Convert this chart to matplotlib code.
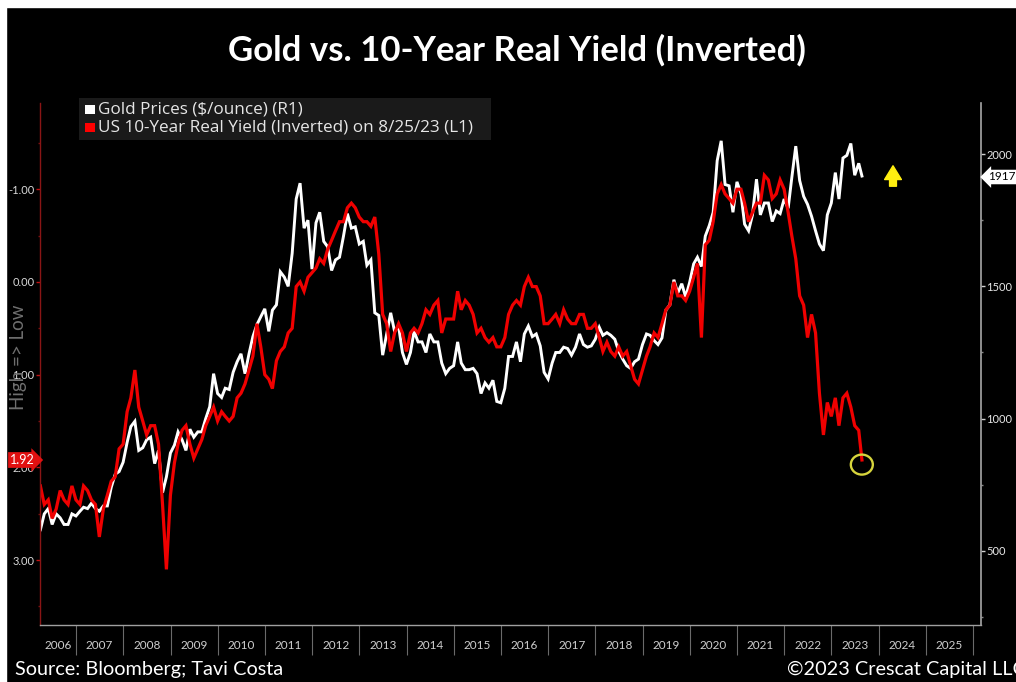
import matplotlib
matplotlib.use("Agg")
import matplotlib.pyplot as plt
import matplotlib.dates as mdates
from matplotlib.patches import Ellipse, Rectangle, FancyArrowPatch
from matplotlib.ticker import FixedLocator, FixedFormatter, MultipleLocator
import pandas as pd
import datetime as dt

plt.rcParams['font.family'] = ['Lato', 'DejaVu Sans']

# ---------------- data (monthly, Mar 2006 .. 25 Aug 2023) ----------------
gold = [
    # 2006 Mar-Dec
    580, 640, 660, 600, 640, 625, 600, 600, 640, 632,
    # 2007
    650, 665, 660, 680, 660, 650, 670, 670, 740, 790, 800, 835,
    # 2008
    910, 970, 990, 880, 890, 920, 930, 830, 880, 720, 780, 870,
    # 2009
    900, 950, 920, 880, 960, 930, 950, 950, 1000, 1045, 1170, 1095,
    # 2010
    1080, 1115, 1110, 1175, 1215, 1245, 1170, 1245, 1310, 1355, 1385, 1415,
    # 2011
    1330, 1410, 1430, 1555, 1535, 1500, 1625, 1830, 1890, 1720, 1750, 1565,
    # 2012
    1740, 1780, 1670, 1650, 1560, 1600, 1610, 1690, 1775, 1720, 1725, 1660,
    # 2013
    1670, 1580, 1600, 1400, 1390, 1240, 1320, 1400, 1330, 1350, 1250, 1205,
    # 2014
    1250, 1330, 1290, 1290, 1250, 1320, 1290, 1290, 1210, 1170, 1190, 1200,
    # 2015
    1290, 1210, 1185, 1185, 1190, 1170, 1095, 1135, 1115, 1145, 1065, 1060,
    # 2016
    1115, 1235, 1235, 1290, 1215, 1320, 1350, 1310, 1320, 1275, 1175, 1150,
    # 2017
    1210, 1250, 1250, 1270, 1265, 1240, 1270, 1320, 1280, 1270, 1275, 1300,
    # 2018
    1345, 1315, 1325, 1315, 1300, 1255, 1225, 1200, 1190, 1215, 1225, 1280,
    # 2019
    1320, 1315, 1295, 1280, 1305, 1410, 1430, 1525, 1475, 1510, 1460, 1515,
    # 2020
    1585, 1610, 1575, 1690, 1730, 1780, 1975, 2050, 1885, 1880, 1780, 1895,
    # 2021
    1850, 1735, 1710, 1770, 1905, 1770, 1815, 1815, 1745, 1785, 1775, 1830,
    # 2022
    1795, 1910, 2030, 1900, 1840, 1810, 1765, 1710, 1660, 1635, 1770, 1815,
    # 2023 Jan-Aug
    1930, 1830, 1985, 1995, 2040, 1920, 1965, 1917,
]

real_yield = [
    # 2006 Mar-Dec
    2.20, 2.40, 2.35, 2.55, 2.45, 2.25, 2.35, 2.40, 2.20, 2.35,
    # 2007
    2.40, 2.20, 2.25, 2.35, 2.40, 2.75, 2.45, 2.30, 2.15, 2.10, 1.80, 1.75,
    # 2008
    1.40, 1.25, 0.95, 1.35, 1.50, 1.65, 1.55, 1.55, 1.75, 2.40, 3.10, 2.30,
    # 2009
    1.95, 1.75, 1.60, 1.55, 1.75, 1.90, 1.80, 1.70, 1.55, 1.45, 1.35, 1.50,
    # 2010
    1.40, 1.45, 1.50, 1.45, 1.25, 1.20, 1.10, 0.95, 0.80, 0.45, 0.70, 1.00,
    # 2011
    1.05, 1.15, 0.85, 0.75, 0.70, 0.55, 0.50, 0.05, 0.00, 0.10, -0.05, -0.10,
    # 2012
    -0.15, -0.25, -0.20, -0.35, -0.45, -0.55, -0.65, -0.65, -0.80, -0.85, -0.80, -0.70,
    # 2013
    -0.65, -0.65, -0.60, -0.70, -0.30, 0.35, 0.45, 0.75, 0.55, 0.45, 0.55, 0.75,
    # 2014
    0.55, 0.50, 0.55, 0.45, 0.30, 0.35, 0.25, 0.20, 0.55, 0.40, 0.40, 0.40,
    # 2015
    0.10, 0.30, 0.20, 0.25, 0.35, 0.55, 0.50, 0.60, 0.65, 0.60, 0.70, 0.70,
    # 2016
    0.60, 0.35, 0.25, 0.20, 0.25, 0.05, -0.05, 0.05, 0.05, 0.15, 0.45, 0.45,
    # 2017
    0.40, 0.35, 0.45, 0.30, 0.40, 0.45, 0.45, 0.35, 0.35, 0.50, 0.50, 0.45,
    # 2018
    0.60, 0.75, 0.65, 0.75, 0.80, 0.70, 0.80, 0.75, 0.90, 1.05, 1.10, 0.95,
    # 2019
    0.80, 0.70, 0.55, 0.60, 0.45, 0.30, 0.25, 0.00, 0.15, 0.15, 0.20, 0.10,
    # 2020
    -0.05, -0.20, 0.60, -0.40, -0.45, -0.65, -0.95, -1.05, -0.95, -0.90, -0.85, -1.00,
    # 2021
    -1.00, -0.85, -0.65, -0.75, -0.85, -0.85, -1.15, -1.10, -0.90, -0.95, -1.10, -1.00,
    # 2022
    -0.75, -0.50, -0.25, 0.15, 0.25, 0.60, 0.35, 0.55, 1.20, 1.65, 1.30, 1.45,
    # 2023 Jan-Aug
    1.25, 1.55, 1.25, 1.20, 1.35, 1.55, 1.60, 1.92,
]

dates = list(pd.date_range('2006-03-31', periods=209, freq=pd.offsets.MonthEnd())) + [pd.Timestamp('2023-08-25')]

year_labels = [str(y) for y in range(2006, 2026)]
yield_ticks = [-1, 0, 1, 2, 3]
gold_ticks = [500, 1000, 1500, 2000]
last_gold = 1917.3
last_yield = 1.92

title = "Gold vs. 10-Year Real Yield (Inverted)"
legend_gold = "Gold Prices ($/ounce) (R1)"
legend_yield = "US 10-Year Real Yield (Inverted) on 8/25/23 (L1)"

# ---------------- figure ----------------
W, H = 1016, 682
fig = plt.figure(figsize=(W / 100, H / 100), dpi=100, facecolor='black')


def fp(x, y):
    return (x / W, 1 - y / H)


# thin white screenshot border on top / left
fig.patches.append(Rectangle((0, 1 - 7 / H), 1, 7 / H, transform=fig.transFigure,
                             color='white', zorder=-5))
fig.patches.append(Rectangle((0, 0), 6 / W, 1, transform=fig.transFigure,
                             color='white', zorder=-5))

ax = fig.add_axes([40 / W, 1 - 625 / H, 941 / W, 522 / H])
ax2 = ax.twinx()
ax.set_zorder(ax2.get_zorder() + 1)
ax.patch.set_visible(False)
ax2.patch.set_visible(True)
ax2.patch.set_facecolor('black')

xdates = mdates.date2num(dates)
ax2.plot(xdates, gold, color='white', lw=2.1, solid_joinstyle='miter')
ax.plot(xdates, real_yield, color='#f00000', lw=2.3, solid_joinstyle='miter')

x0 = mdates.date2num(dt.datetime(2006, 3, 28))
x1 = mdates.date2num(dt.datetime(2026, 3, 3))
ax.set_xlim(x0, x1)
ax.set_ylim(3.70, -1.93)
ax2.set_ylim(220, 2193)

# spines
for s in ['top', 'right']:
    ax.spines[s].set_visible(False)
ax.spines['left'].set_color('#8a1515')
ax.spines['left'].set_linewidth(1.0)
ax.spines['bottom'].set_color('#a0a0a0')
ax.spines['bottom'].set_linewidth(1.0)
for s in ['top', 'left', 'bottom']:
    ax2.spines[s].set_visible(False)
ax2.spines['right'].set_color('#a8a8a8')
ax2.spines['right'].set_linewidth(1.2)

# x axis: separators at year boundaries, labels centered in each year
bounds = [mdates.date2num(dt.datetime(y, 1, 1)) for y in range(2007, 2027)]
centers = [(x0 + bounds[0]) / 2] + [mdates.date2num(dt.datetime(y, 7, 2)) for y in range(2007, 2026)]
ax.xaxis.set_major_locator(FixedLocator(bounds))
ax.xaxis.set_major_formatter(FixedFormatter([''] * len(bounds)))
ax.xaxis.set_minor_locator(FixedLocator(centers))
ax.xaxis.set_minor_formatter(FixedFormatter(year_labels))
ax.tick_params(axis='x', which='major', length=21.5, width=0.8, color='#6a6a6a', direction='out')
ax.tick_params(axis='x', which='minor', length=0, pad=11, labelsize=8.5, labelcolor='#cfcfcf')

# left axis
ax.yaxis.set_major_locator(FixedLocator(yield_ticks))
ax.yaxis.set_major_formatter(FixedFormatter([f"{v:.2f}" for v in yield_ticks]))
ax.yaxis.set_minor_locator(MultipleLocator(0.5))
ax.tick_params(axis='y', which='major', length=3, width=1, color='#c01010', pad=1,
               labelsize=8, labelcolor='#d8d8d8')
ax.tick_params(axis='y', which='minor', length=1.5, width=1, color='#7a1010')

# right axis
ax2.yaxis.set_major_locator(FixedLocator(gold_ticks))
ax2.yaxis.set_major_formatter(FixedFormatter([str(v) for v in gold_ticks]))
ax2.yaxis.set_minor_locator(MultipleLocator(250))
ax2.tick_params(axis='y', which='major', length=3, width=1, color='#cfcfcf', pad=1,
                labelsize=8, labelcolor='#e8e8e8')
ax2.tick_params(axis='y', which='minor', length=1.5, width=1, color='#8a8a8a')

# yellow circle around last yield value
circ_w = 22 / 47.21 * 365.25
circ_h = 20 / 92.75
ax.add_patch(Ellipse((mdates.date2num(dates[-1]) - 1, last_yield + 0.05), circ_w, circ_h,
                     fill=False, edgecolor='#d6d43c', lw=1.7, zorder=10))

# yellow up arrow
fig.patches.append(FancyArrowPatch(
    fp(893, 189), fp(893, 163), transform=fig.transFigure,
    arrowstyle='simple,head_length=0.9,head_width=1.1,tail_width=0.45',
    mutation_scale=11, color='#ffee10', zorder=20))

# title
fig.text(*fp(517, 50), title, ha='center', va='center', color='white',
         fontsize=25, fontweight='bold')

# legend box
fig.patches.append(Rectangle(fp(79, 140), 412 / W, 42 / H, transform=fig.transFigure,
                             facecolor='#1a1a1a', edgecolor='none', zorder=5))
fig.patches.append(Rectangle(fp(85, 114), 10 / W, 9 / H, transform=fig.transFigure,
                             facecolor='white', edgecolor='none', zorder=6))
fig.patches.append(Rectangle(fp(85, 132), 10 / W, 9 / H, transform=fig.transFigure,
                             facecolor='#ff0000', edgecolor='none', zorder=6))
fig.text(*fp(98, 110), legend_gold, ha='left', va='center', color='#e6e6e6',
         fontsize=12.3, family=['Open Sans', 'DejaVu Sans'], zorder=7)
fig.text(*fp(98, 128), legend_yield, ha='left', va='center', color='#e6e6e6',
         fontsize=12.3, family=['Open Sans', 'DejaVu Sans'], zorder=7)

# axis side label
fig.text(*fp(19, 357), "High => Low", rotation=90, ha='center', va='center',
         color='#6f6f6f', fontsize=13.5)

# last value tags
fig.text(*fp(988, 177), f"{last_gold:.1f}", ha='left', va='center', color='black',
         fontsize=8.5, bbox=dict(boxstyle='larrow,pad=0.15', fc='white', ec='none'))
fig.text(*fp(10, 460), f"{last_yield:.2f}", ha='left', va='center', color='white',
         fontsize=9, bbox=dict(boxstyle='rarrow,pad=0.15', fc='#e01010', ec='none'))

# footer
fig.text(*fp(15, 669), "Source: Bloomberg; Tavi Costa", ha='left', va='center',
         color='white', fontsize=14.3)
fig.text(*fp(1026, 669), "\u00a92023 Crescat Capital LLC", ha='right', va='center',
         color='white', fontsize=14.3)

fig.savefig('out.png', dpi=100, facecolor='black')
